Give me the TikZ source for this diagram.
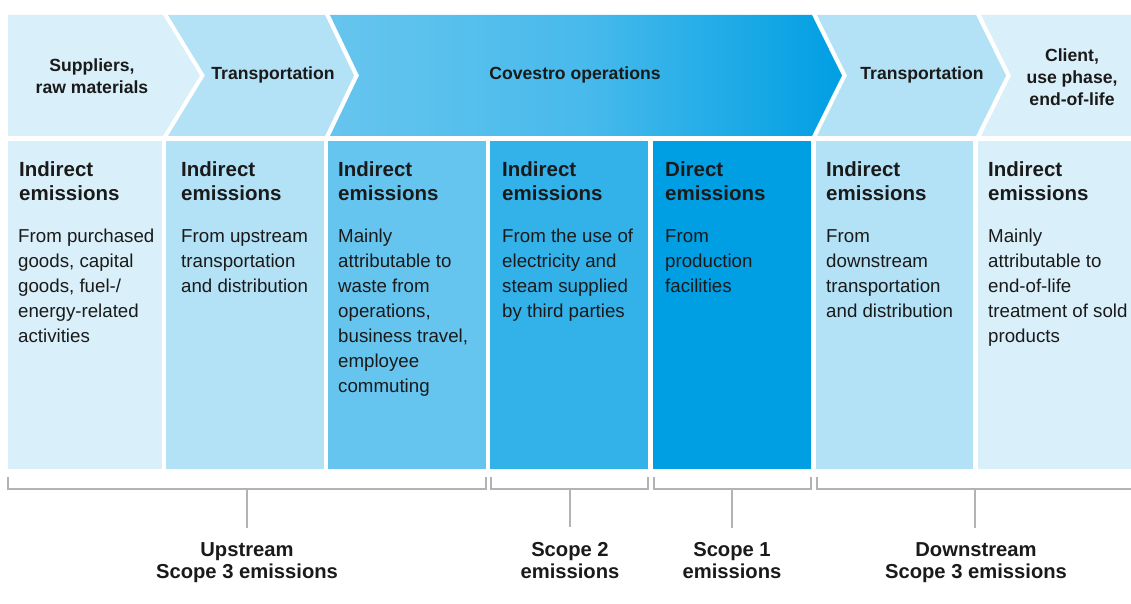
\documentclass[tikz,border=0pt]{standalone}
\usepackage{fontspec}
\setmainfont{Liberation Sans}
\definecolor{cA}{HTML}{D9F0FA}
\definecolor{cB}{HTML}{B3E1F5}
\definecolor{cC}{HTML}{66C5EE}
\definecolor{cD}{HTML}{33B2EA}
\definecolor{cE}{HTML}{009FE3}
\definecolor{brk}{HTML}{B3B3B3}
\definecolor{txt}{HTML}{1A1A1A}
\begin{document}
\begin{tikzpicture}[x=1pt,y=-1pt,
  colbox/.style={draw=none,inner sep=0,outer sep=0,minimum width=#1,minimum height=328,anchor=north west},
  head/.style={anchor=north west,inner sep=0,align=left,text=txt,font=\fontsize{20.5}{24}\selectfont\bfseries},
  body/.style={anchor=north west,inner sep=0,align=left,text=txt,font=\fontsize{18.7}{25}\selectfont},
  toplab/.style={inner sep=0,align=center,text=txt,font=\fontsize{17.6}{22}\selectfont\bfseries},
  botlab/.style={anchor=north,inner sep=0,align=center,text=txt,font=\fontsize{20.2}{22}\selectfont\bfseries},
  bracket/.style={draw=brk,line width=1.6pt}]
\useasboundingbox (0,0) rectangle (1131,604);

% top chevrons
\fill[cA] (8,15) -- (163,15) -- (200,75.5) -- (163,136) -- (8,136) -- cycle;
\fill[cB] (168,15) -- (325,15) -- (354,75.5) -- (325,136) -- (168,136) -- (205,75.5) -- cycle;
\shade[left color=cC, right color=cE, middle color=cD!60!cC] (330,15) -- (812,15) -- (842,75.5) -- (812,136) -- (330,136) -- (359,75.5) -- cycle;
\fill[cB] (817,15) -- (976,15) -- (1006,75.5) -- (976,136) -- (817,136) -- (847,75.5) -- cycle;
\fill[cA] (981,15) -- (1131,15) -- (1131,136) -- (981,136) -- (1011,75.5) -- cycle;

\node[toplab] (s1) at (92,76) {Suppliers,\\raw materials};
\node[toplab] (s2) at (273,75) {Transportation};
\node[toplab] (s3) at (575,75) {Covestro operations};
\node[toplab] (s4) at (922,75) {Transportation};
\node[toplab] (s5) at (1072,77) {Client,\\use phase,\\end-of-life};

% columns
\node[colbox=154,fill=cA] (c1) at (8,141) {};
\node[colbox=158,fill=cB] (c2) at (166,141) {};
\node[colbox=158,fill=cC] (c3) at (328,141) {};
\node[colbox=158,fill=cD] (c4) at (490,141) {};
\node[colbox=158,fill=cE] (c5) at (653,141) {};
\node[colbox=157,fill=cB] (c6) at (816,141) {};
\node[colbox=153,fill=cA] (c7) at (978,141) {};

\node[head] (h1) at (19,161) {Indirect\\emissions};
\node[head] (h2) at (181,161) {Indirect\\emissions};
\node[head] (h3) at (338,161) {Indirect\\emissions};
\node[head] (h4) at (502,161) {Indirect\\emissions};
\node[head] (h5) at (665,161) {Direct\\emissions};
\node[head] (h6) at (826,161) {Indirect\\emissions};
\node[head] (h7) at (988,161) {Indirect\\emissions};

\node[body] (b1) at (18,229) {From purchased\\goods, capital\\goods, fuel-/\\energy-related\\activities};
\node[body] (b2) at (181,229) {From upstream\\transportation\\and distribution};
\node[body] (b3) at (338,229) {Mainly\\attributable to\\waste from\\operations,\\business travel,\\employee\\commuting};
\node[body] (b4) at (502,229) {From the use of\\electricity and\\steam supplied\\by third parties};
\node[body] (b5) at (665,229) {From\\production\\facilities};
\node[body] (b6) at (826,229) {From\\downstream\\transportation\\and distribution};
\node[body] (b7) at (988,229) {Mainly\\attributable to\\end-of-life\\treatment of sold\\products};

% brackets
\coordinate (k1a) at (8,477);   \coordinate (k1b) at (486,477);
\coordinate (k2a) at (491,477); \coordinate (k2b) at (648,477);
\coordinate (k3a) at (654,477); \coordinate (k3b) at (811,477);
\coordinate (k4a) at (817,477); \coordinate (k4b) at (1131,489);
\draw[bracket] (k1a) -- ++(0,12) -| (k1b);
\draw[bracket] (k2a) -- ++(0,12) -| (k2b);
\draw[bracket] (k3a) -- ++(0,12) -| (k3b);
\draw[bracket] (k4a) |- (k4b);

\coordinate (m1) at (247,489); \coordinate (e1) at (247,528);
\coordinate (m2) at (570,489); \coordinate (e2) at (570,527);
\coordinate (m3) at (732,489); \coordinate (e3) at (732,528);
\coordinate (m4) at (975,489); \coordinate (e4) at (975,528);
\draw[bracket] (m1) -- (e1);
\draw[bracket] (m2) -- (e2);
\draw[bracket] (m3) -- (e3);
\draw[bracket] (m4) -- (e4);

\node[botlab] (l1) at (247,542) {Upstream\\Scope 3 emissions};
\node[botlab] (l2) at (570,542) {Scope 2\\emissions};
\node[botlab] (l3) at (732,542) {Scope 1\\emissions};
\node[botlab] (l4) at (976,542) {Downstream\\Scope 3 emissions};
\end{tikzpicture}
\end{document}
